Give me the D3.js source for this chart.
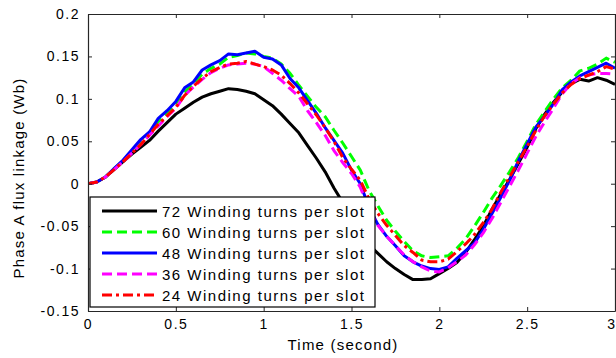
<!DOCTYPE html>
<html>
<head>
<meta charset="utf-8">
<script src="https://cdn.jsdelivr.net/npm/d3@7/dist/d3.min.js"></script>
<style>
  html, body { margin: 0; padding: 0; background: #fff; }
  svg { display: block; }
  text { font-family: "Liberation Sans", Arial, sans-serif; fill: #000; }
</style>
</head>
<body>
<svg id="chart" width="616" height="358"></svg>
<script>
// Sample times (s), every 0.05 s from 0 to 3
const time = d3.range(0, 61).map(i => +(i * 0.05).toFixed(2));

// Phase A flux linkage (Wb) for each winding configuration
const turns72 = [0, .002, .008, .017, .026, .035, .043, .051, .062, .072, .082, .089, .096, .102, .106, .109, .112, .111, .109, .106,
  .099, .092, .082, .071, .060, .045, .030, .014, -.005, -.022, -.040, -.055, -.072, -.082, -.092, -.100, -.107, -.113, -.113, -.112,
  -.106, -.100, -.093, -.081, -.066, -.050, -.030, -.012, .005, .024, .043, .065, .082, .096, .108, .118, .123, .121, .125, .122, .117];
const turns60 = [0, .002, .008, .018, .027, .038, .049, .059, .073, .083, .095, .108, .118, .129, .136, .141, .149, .151, .154, .153,
  .150, .148, .141, .130, .116, .103, .090, .079, .063, .048, .032, .016, -.008, -.026, -.043, -.056, -.068, -.079, -.085, -.087,
  -.086, -.085, -.076, -.065, -.050, -.034, -.017, -.002, .014, .031, .050, .070, .085, .100, .113, .122, .133, .136, .141, .148, .143];
const turns48 = [0, .002, .008, .018, .028, .040, .052, .061, .077, .086, .097, .113, .120, .134, .140, .145, .153, .152, .154, .156,
  .149, .147, .140, .124, .113, .098, .083, .066, .051, .036, .016, 0, -.028, -.048, -.062, -.073, -.085, -.092, -.097, -.100,
  -.101, -.098, -.088, -.079, -.070, -.054, -.035, -.016, .004, .027, .047, .067, .080, .094, .111, .120, .127, .132, .137, .142, .136];
const turns36 = [0, .002, .008, .017, .026, .036, .046, .057, .068, .079, .089, .104, .114, .123, .131, .136, .140, .141, .142, .141,
  .138, .130, .122, .112, .103, .086, .072, .057, .039, .025, .012, -.004, -.030, -.049, -.062, -.073, -.084, -.092, -.098, -.103,
  -.104, -.099, -.092, -.084, -.072, -.058, -.041, -.022, -.003, .016, .036, .056, .073, .089, .106, .118, .125, .128, .130, .130, .129];
const turns24 = [0, .002, .008, .017, .026, .036, .046, .058, .070, .080, .090, .104, .115, .124, .132, .137, .141, .142, .144, .141,
  .138, .134, .128, .118, .107, .094, .081, .066, .050, .031, .017, .004, -.018, -.035, -.049, -.061, -.073, -.081, -.090, -.092,
  -.092, -.089, -.080, -.071, -.060, -.046, -.030, -.010, .008, .026, .044, .063, .080, .094, .107, .117, .124, .128, .132, .138, .135];

const seriesNames = ["72 Winding turns per slot", "60 Winding turns per slot", "48 Winding turns per slot",
  "36 Winding turns per slot", "24 Winding turns per slot"];
const seriesValues = [turns72, turns60, turns48, turns36, turns24];
const seriesColors = ["#000000", "#00ff00", "#0000ff", "#ff00ff", "#ff0000"];
const seriesDash = [null, "10,5", null, "10,5", "10,4,3,4"];

const xTicks = [0, 0.5, 1, 1.5, 2, 2.5, 3];
const yTicks = [-0.15, -0.1, -0.05, 0, 0.05, 0.1, 0.15, 0.2];
const xTickLabels = ["0", "0.5", "1", "1.5", "2", "2.5", "3"];
const yTickLabels = ["-0.15", "-0.1", "-0.05", "0", "0.05", "0.1", "0.15", "0.2"];

const svg = d3.select("#chart");
const plot = { left: 88, right: 615, top: 14, bottom: 311 };

const x = d3.scaleLinear().domain([0, 3]).range([plot.left, plot.right]);
const y = d3.scaleLinear().domain([-0.15, 0.2]).range([plot.bottom, plot.top]);

const clipId = "plotClip";
svg.append("defs").append("clipPath").attr("id", clipId)
  .append("rect").attr("x", plot.left).attr("y", plot.top)
  .attr("width", plot.right - plot.left).attr("height", plot.bottom - plot.top);

// Curves
const line = d3.line().x((d, i) => x(time[i])).y(d => y(d));
const curves = svg.append("g").attr("clip-path", `url(#${clipId})`);
seriesValues.forEach((vals, k) => {
  curves.append("path")
    .datum(vals)
    .attr("d", line)
    .attr("fill", "none")
    .attr("stroke", seriesColors[k])
    .attr("stroke-width", 3)
    .attr("stroke-linejoin", "round")
    .attr("stroke-dasharray", seriesDash[k]);
});

// Axes: ticks point inward, mirrored on the opposite sides
const axisColor = "#262626";
const tickLen = 4;
const axBottom = d3.axisBottom(x).tickValues(xTicks).tickSizeInner(-tickLen).tickSizeOuter(0)
  .tickFormat((d, i) => xTickLabels[i]).tickPadding(8);
const axTop = d3.axisTop(x).tickValues(xTicks).tickSizeInner(-tickLen).tickSizeOuter(0).tickFormat("");
const axLeft = d3.axisLeft(y).tickValues(yTicks).tickSizeInner(-tickLen).tickSizeOuter(0)
  .tickFormat((d, i) => yTickLabels[i]).tickPadding(8);
const axRight = d3.axisRight(y).tickValues(yTicks).tickSizeInner(-tickLen).tickSizeOuter(0).tickFormat("");

function styleAxis(g) {
  g.selectAll("path.domain").attr("stroke", axisColor).attr("stroke-width", 1.2);
  g.selectAll(".tick line").attr("stroke", axisColor).attr("stroke-width", 1);
  g.selectAll(".tick text").attr("font-family", "Liberation Sans, Arial, sans-serif")
    .attr("font-size", 14).attr("letter-spacing", "1.5px").attr("fill", "#000");
}
const gBottom = svg.append("g").attr("transform", `translate(0,${plot.bottom})`).call(axBottom).call(styleAxis);
gBottom.selectAll(".tick text").attr("dy", "0.71em");
// keep the last label inside the page edge
gBottom.selectAll(".tick text").filter(d => d === 3).attr("text-anchor", "end").attr("x", 1);
svg.append("g").attr("transform", `translate(0,${plot.top})`).call(axTop).call(styleAxis);
svg.append("g").attr("transform", `translate(${plot.left},0)`).call(axLeft).call(styleAxis);
svg.append("g").attr("transform", `translate(${plot.right},0)`).call(axRight).call(styleAxis);

// Axis titles
svg.append("text")
  .attr("x", 343).attr("y", 350)
  .attr("text-anchor", "middle").attr("font-size", 15).attr("letter-spacing", "1.2px")
  .text("Time (second)");
svg.append("text")
  .attr("transform", "translate(24,178) rotate(-90)")
  .attr("text-anchor", "middle").attr("font-size", 15).attr("letter-spacing", "1.2px")
  .text("Phase A flux linkage (Wb)");

// Legend
const legend = { x: 90, y: 197, w: 285, h: 110, rowGap: 21 };
const lg = svg.append("g");
lg.append("rect").attr("x", legend.x).attr("y", legend.y).attr("width", legend.w).attr("height", legend.h)
  .attr("fill", "#fff").attr("stroke", "#000").attr("stroke-width", 1.2);
seriesNames.forEach((name, k) => {
  const cy = legend.y + 14 + k * legend.rowGap;
  lg.append("line").attr("x1", legend.x + 12).attr("x2", legend.x + 67).attr("y1", cy).attr("y2", cy)
    .attr("stroke", seriesColors[k]).attr("stroke-width", 3).attr("stroke-dasharray", seriesDash[k]);
  lg.append("text").attr("x", legend.x + 72).attr("y", cy + 5.5)
    .attr("font-size", 15).attr("letter-spacing", "1.5px").text(name);
});
</script>
</body>
</html>
